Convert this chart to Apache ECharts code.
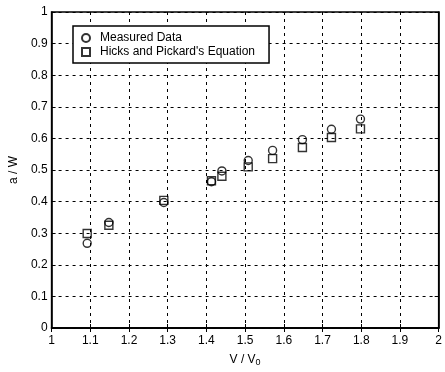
<!DOCTYPE html>
<html><head><meta charset="utf-8">
<script src="https://cdn.jsdelivr.net/npm/echarts@6/dist/echarts.min.js"></script>
<style>html,body{margin:0;padding:0;background:#fff}#c{width:445px;height:372px}</style>
</head><body><div id="c"></div>
<script>
const vRatio = [1.092, 1.148, 1.29, 1.413, 1.44, 1.508, 1.571, 1.648, 1.723, 1.798];
const measured = [0.268, 0.334, 0.397, 0.463, 0.497, 0.530, 0.562, 0.596, 0.629, 0.661];
const hicksPickard = [0.299, 0.325, 0.404, 0.466, 0.480, 0.510, 0.536, 0.571, 0.603, 0.630];
const seriesNames = ['Measured Data', "Hicks and Pickard's Equation"];

const font = 'Liberation Sans, Arial, sans-serif';
const gridLine = {show: true, lineStyle: {color: '#000', type: [3, 4], width: 1}};
const chart = echarts.init(document.getElementById('c'));
chart.setOption({
  animation: false,
  backgroundColor: '#fff',
  grid: {left: 47, right: 4, top: 12, bottom: 36, show: true, borderColor: '#000', borderWidth: 1.5},
  legend: {
    orient: 'vertical', left: 73, top: 26,
    backgroundColor: '#fff', borderColor: '#000', borderWidth: 1.5,
    padding: [6, 14, 5, 8], itemGap: 2, itemWidth: 8, itemHeight: 8,
    textStyle: {fontFamily: font, fontSize: 12, color: '#000', padding: [0, 0, 0, 5]},
    data: [{name: seriesNames[0], icon: 'circle'}, {name: seriesNames[1], icon: 'rect'}]
  },
  xAxis: [{
    type: 'value', min: 1, max: 2, interval: 0.1,
    name: '{a|V / V}{s|0}', nameLocation: 'middle', nameGap: 25,
    nameTextStyle: {rich: {a: {fontFamily: font, fontSize: 12, color: '#000'}, s: {fontFamily: font, fontSize: 9, color: '#000', padding: [5, 0, 0, 0]}}},
    axisLine: {show: true, lineStyle: {color: '#000', width: 1.5}},
    axisTick: {show: true, inside: true, length: 4, lineStyle: {color: '#000'}},
    axisLabel: {color: '#000', fontFamily: font, fontSize: 12, margin: 7},
    splitLine: gridLine
  }, {
    type: 'value', min: 1, max: 2, interval: 0.1, position: 'top',
    axisLine: {show: true, lineStyle: {color: '#000', width: 1.5}},
    axisTick: {show: true, inside: true, length: 4, lineStyle: {color: '#000'}},
    axisLabel: {show: false}, splitLine: {show: false}
  }],
  yAxis: [{
    type: 'value', min: 0, max: 1, interval: 0.1,
    name: 'a / W', nameLocation: 'middle', nameGap: 24,
    nameTextStyle: {fontFamily: font, fontSize: 12, color: '#000'},
    axisLine: {show: true, lineStyle: {color: '#000', width: 1.5}},
    axisTick: {show: true, inside: true, length: 4, lineStyle: {color: '#000'}},
    axisLabel: {color: '#000', fontFamily: font, fontSize: 12, margin: 4},
    splitLine: gridLine
  }, {
    type: 'value', min: 0, max: 1, interval: 0.1, position: 'right',
    axisLine: {show: true, lineStyle: {color: '#000', width: 1.5}},
    axisTick: {show: true, inside: true, length: 4, lineStyle: {color: '#000'}},
    axisLabel: {show: false}, splitLine: {show: false}
  }],
  series: [{
    name: seriesNames[0], type: 'scatter', symbol: 'circle', symbolSize: 8,
    itemStyle: {color: 'rgba(255,255,255,0)', borderColor: '#000', borderWidth: 1.4},
    data: vRatio.map((x, i) => [x, measured[i]]), z: 3
  }, {
    name: seriesNames[1], type: 'scatter', symbol: 'rect', symbolSize: 8,
    itemStyle: {color: 'rgba(255,255,255,0)', borderColor: '#000', borderWidth: 1.4},
    data: vRatio.map((x, i) => [x, hicksPickard[i]]), z: 3
  }]
});
</script></body></html>
